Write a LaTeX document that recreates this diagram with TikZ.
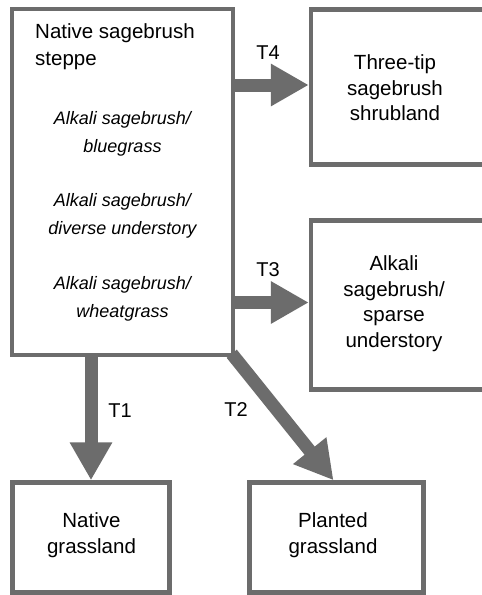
\documentclass[tikz,border=0pt]{standalone}
\usepackage{fontspec}
\setmainfont{Liberation Sans}
\usetikzlibrary{arrows.meta,calc}
\definecolor{dg}{RGB}{108,108,108}
\begin{document}
\begin{tikzpicture}[x=1pt,y=-1pt,
  box/.style={draw=dg,line width=4.5pt,inner sep=0pt},
  txt/.style={align=center,font=\fontsize{20.5}{25.5}\selectfont,inner sep=0pt},
  itx/.style={align=center,font=\fontsize{18}{28}\selectfont\itshape,inner sep=0pt},
  lbl/.style={font=\fontsize{20}{24}\selectfont,inner sep=0pt},
  flow/.style={draw=dg,line width=13pt,-{Triangle[length=38pt,width=40pt]}}]
\clip (0,0) rectangle (482,595);
\fill[white] (0,0) rectangle (482,595);
% boxes
\node[box,minimum width=221pt,minimum height=346pt] (main) at (122.5,182) {};
\node[box,minimum width=189pt,minimum height=155pt] (three) at (405.5,87) {};
\node[box,minimum width=189pt,minimum height=169pt] (sparse) at (405.5,305) {};
\node[box,minimum width=157pt,minimum height=110pt] (native) at (91,537.5) {};
\node[box,minimum width=174pt,minimum height=110pt] (planted) at (336.5,537.5) {};
% texts
\node[txt,anchor=west,align=left,font=\fontsize{20.5}{27}\selectfont] (title) at (35,46.5) {Native sagebrush\\steppe};
\node[itx] (s1) at (122.5,133.5) {Alkali sagebrush/\\bluegrass};
\node[itx] (s2) at (122.5,216) {Alkali sagebrush/\\diverse understory};
\node[itx] (s3) at (122.5,299) {Alkali sagebrush/\\wheatgrass};
\node[txt] (threetx) at (395,87.7) {Three-tip\\sagebrush\\shrubland};
\node[txt] (sparsetx) at (394,303.5) {Alkali\\sagebrush/\\sparse\\understory};
\node[txt,font=\fontsize{20.5}{26}\selectfont] (nativetx) at (91.5,535) {Native\\grassland};
\node[txt,font=\fontsize{20.5}{26}\selectfont] (plantedtx) at (333,535) {Planted\\grassland};
% connectors
\coordinate (a4) at ($(three.west)+(0,-2)$);
\coordinate (a3) at ($(sparse.west)+(0,-2.5)$);
\coordinate (a2) at ($(planted.north)+(-3,0)$);
\coordinate (s2start) at ($(main.south east)+(-3.5,-3.5)$);
\draw[flow] (main.east |- a4) -- (a4);
\draw[flow] (main.east |- a3) -- (a3);
\draw[flow] (native.north |- main.south) -- (native.north);
\draw[flow] (s2start) -- (a2);
% labels
\node[lbl] (l4) at (268,53) {T4};
\node[lbl] (l3) at (268,270) {T3};
\node[lbl] (l1) at (120,411) {T1};
\node[lbl] (l2) at (236,410) {T2};
\end{tikzpicture}
\end{document}
